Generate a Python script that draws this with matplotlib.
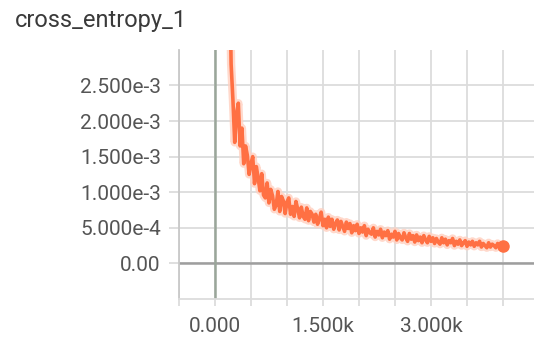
import matplotlib
matplotlib.use("Agg")
import matplotlib.pyplot as plt
from matplotlib.ticker import MultipleLocator

plt.rcParams['font.family'] = ['Roboto', 'DejaVu Sans']

# training steps (every 25) and loss values, in units of 1e-4
steps = list(range(200, 4001, 25))
loss_e4 = [
    45, 28, 23, 17, 21, 22.5, 16.5, 19,
    14, 16.5, 15.2, 12.5, 14.0, 15.0, 11.2, 13.6,
    12.0, 10.2, 12.6, 9.6, 9.2, 11.3, 8.5, 10.4,
    9.5, 7.6, 8.2, 10.1, 7.3, 9.4, 8.8, 7.0,
    8.6, 9.2, 6.9, 8.0, 6.6, 8.7, 7.6, 6.4,
    7.9, 6.6, 6.2, 7.8, 6.0, 7.3, 6.9, 5.8,
    6.9, 5.5, 6.3, 7.2, 5.3, 6.2, 5.0, 6.5,
    5.2, 6.2, 4.8, 5.6, 6.1, 4.7, 5.9, 5.2,
    4.5, 5.8, 4.9, 5.6, 4.3, 5.3, 4.6, 5.5,
    4.2, 5.0, 4.4, 5.3, 3.9, 4.8, 4.3, 4.1,
    5.0, 3.7, 4.5, 4.0, 4.8, 3.6, 4.4, 3.9,
    4.6, 3.4, 4.1, 3.7, 4.5, 3.3, 4.2, 3.6,
    3.3, 4.3, 3.6, 3.1, 4.2, 3.4, 3.9, 3.0,
    4.0, 3.2, 3.7, 2.9, 3.9, 3.3, 2.9, 3.8,
    3.1, 3.6, 2.8, 3.5, 3.0, 2.7, 3.6, 2.9,
    3.4, 2.6, 3.2, 2.9, 3.5, 2.5, 3.1, 2.7,
    3.3, 2.5, 2.9, 3.2, 2.4, 3.0, 2.6, 3.1,
    2.4, 2.9, 2.6, 3.1, 2.3, 2.8, 2.5, 2.2,
    2.9, 2.3, 2.7, 2.5, 2.2, 2.8, 2.3, 2.6,
    2.4,
]
loss = [v * 1e-4 for v in loss_e4]

ytick_vals = [0.0, 5e-4, 1e-3, 1.5e-3, 2e-3, 2.5e-3]
ytick_labels = ["0.00", "5.000e-4", "1.000e-3", "1.500e-3", "2.000e-3", "2.500e-3"]
xtick_vals = [0, 1500, 3000]
xtick_labels = ["0.000", "1.500k", "3.000k"]

fig = plt.figure(figsize=(5.34, 3.39), dpi=100)
ax = fig.add_axes([0.335, 0.118, 0.665, 0.735])

orange = "#ff7043"
grid_c = "#dcdcdc"

# faint raw band + main line
ax.plot(steps, loss, color="#ffd0c0", lw=6, alpha=0.8, solid_joinstyle="round", zorder=3)
ax.plot(steps, loss, color=orange, lw=2.6, solid_joinstyle="round", zorder=4)
ax.plot(steps[-1], loss[-1], "o", color=orange, ms=8, zorder=5)

ax.set_xlim(-500, 4430)
ax.set_ylim(-5e-4, 3e-3)

ax.set_yticks(ytick_vals)
ax.set_yticklabels(ytick_labels)
ax.set_xticks(xtick_vals)
ax.set_xticklabels(xtick_labels)
ax.xaxis.set_minor_locator(MultipleLocator(500))

ax.grid(True, which="both", axis="x", color=grid_c, lw=1.3)
ax.grid(True, which="major", axis="y", color=grid_c, lw=1.3)
ax.set_axisbelow(True)

# zero lines
ax.axhline(0, color="#9e9e9e", lw=1.8, zorder=2)
ax.axvline(0, color="#9aa69a", lw=1.8, zorder=2)

for s in ["top", "right"]:
    ax.spines[s].set_visible(False)
ax.spines["left"].set_color("#c8c8c8")
ax.spines["left"].set_linewidth(1.3)
ax.spines["bottom"].set_color(grid_c)
ax.spines["bottom"].set_linewidth(1.3)

ax.tick_params(axis="y", length=7, width=1.3, color=grid_c, pad=6,
               labelsize=15, labelcolor="#555555")
ax.tick_params(axis="x", which="both", length=5, width=1.3, color=grid_c, pad=8,
               labelsize=15, labelcolor="#555555")

fig.text(15 / 534, 1 - 27 / 339, "cross_entropy_1", fontsize=17,
         color="#3a3a3a", va="baseline", ha="left")

fig.savefig("out.png", dpi=100)
